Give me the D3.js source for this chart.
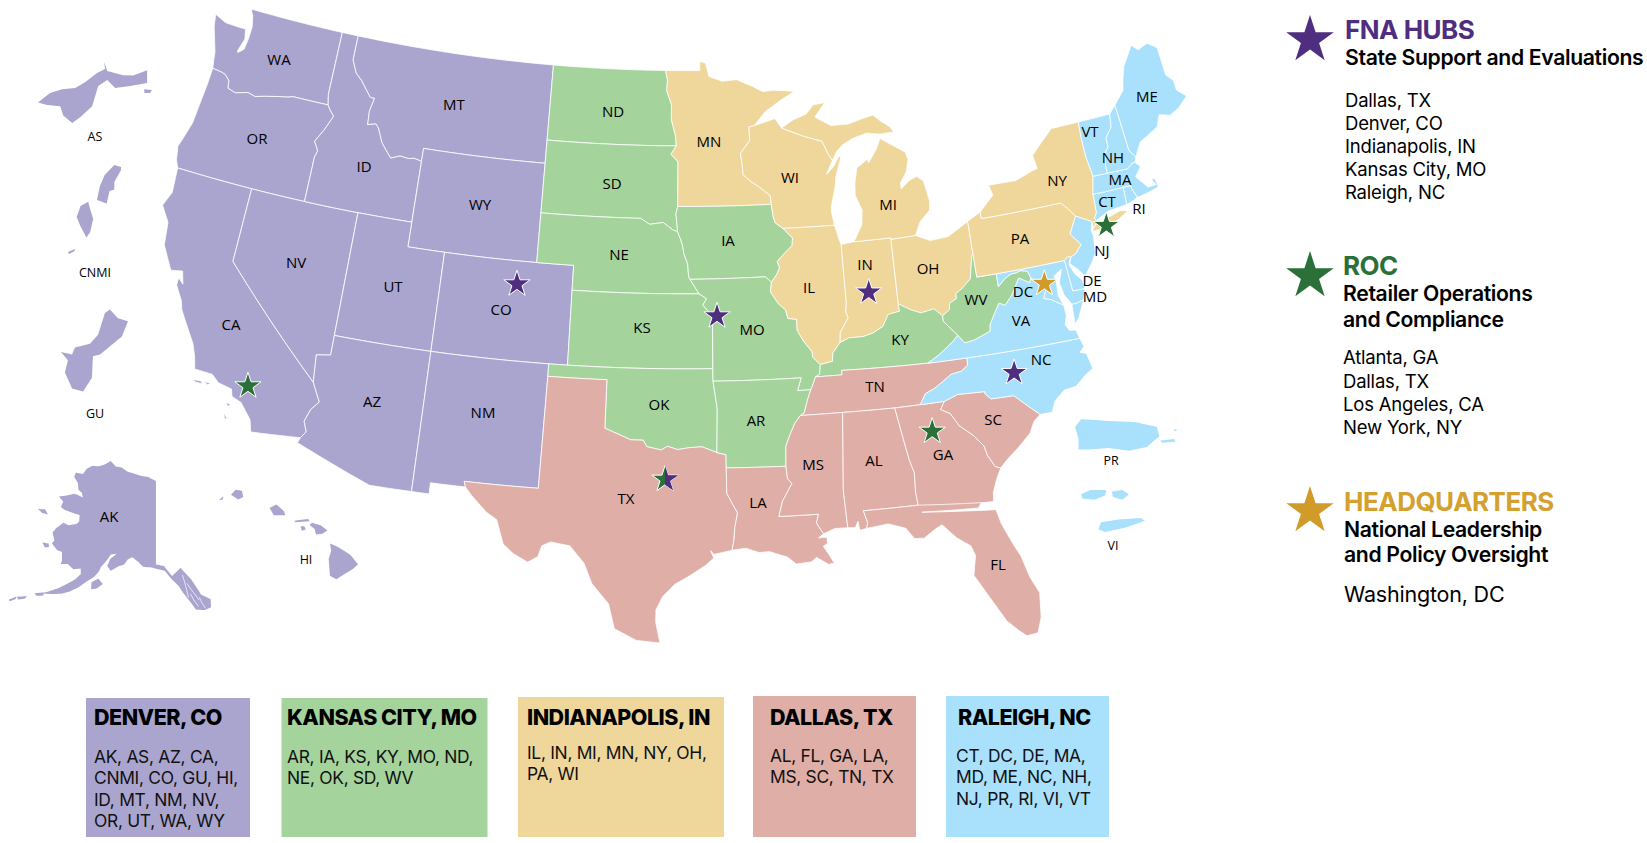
<!DOCTYPE html>
<html>
<head>
<meta charset="utf-8">
<script src="https://cdn.jsdelivr.net/npm/d3@7"></script>
<style>
  body { margin: 0; background: #fff; }
  svg { display: block; }
</style>
</head>
<body>
<svg id="mapa" width="1647" height="843"></svg>
<script>
// regions as printed in the boxes under the map
const regionNames = ["DENVER, CO", "KANSAS CITY, MO", "INDIANAPOLIS, IN", "DALLAS, TX", "RALEIGH, NC"];
const regionColors = ["#aaa5cf", "#a4d49c", "#efd69b", "#dfaea6", "#a9e0fc"];
const regionLines = [
  ["AK, AS, AZ, CA,", "CNMI, CO, GU, HI,", "ID, MT, NM, NV,", "OR, UT, WA, WY"],
  ["AR, IA, KS, KY, MO, ND,", "NE, OK, SD, WV"],
  ["IL, IN, MI, MN, NY, OH,", "PA, WI"],
  ["AL, FL, GA, LA,", "MS, SC, TN, TX"],
  ["CT, DC, DE, MA,", "MD, ME, NC, NH,", "NJ, PR, RI, VI, VT"]
];
// which fill each state takes on the map
const regionMembers = [
  ["AK","AS","AZ","CA","CNMI","CO","GU","HI","ID","MT","NM","NV","OR","UT","WA","WY"],
  ["AR","IA","KS","KY","MO","ND","NE","OK","SD","WV"],
  ["IL","IN","MI","MN","NY","OH","PA","WI"],
  ["AL","FL","GA","LA","MS","SC","TN","TX"],
  ["CT","DC","DE","MA","MD","ME","NC","NH","NJ","PR","RI","VI","VT","VA"]
];

// legend on the right
const legendTitles = ["FNA HUBS", "ROC", "HEADQUARTERS"];
const legendSubs = [["State Support and Evaluations"], ["Retailer Operations", "and Compliance"], ["National Leadership", "and Policy Oversight"]];
const legendCities = [
  ["Dallas, TX", "Denver, CO", "Indianapolis, IN", "Kansas City, MO", "Raleigh, NC"],
  ["Atlanta, GA", "Dallas, TX", "Los Angeles, CA", "New York, NY"],
  ["Washington, DC"]
];

// stars: lon, lat, group (0 hubs, 1 roc, 2 hq)
const hubs = [
  [-105.0, 40.07, 0], [-94.36, 39.1, 0], [-86.3, 39.69, 0], [-79.45, 35.7, 0],
  [-117.75, 34.3, 1], [-83.9, 33.87, 1], [-73.2, 40.7, 1],
  [-77.08, 38.98, 2]
];
const dallas = [-97.0, 32.57];

// shared borders, lon/lat
const columbia = [[-123.95,46.25],[-123.4,46.2],[-123.15,46.15],[-122.85,45.95],[-122.78,45.65],[-122.3,45.55],[-121.6,45.7],[-121.15,45.62],[-120.6,45.73],[-119.9,45.85],[-119.3,45.93],[-119,46],[-116.92,46]];
const snake = [[-116.92,46],[-116.78,45.85],[-116.47,45.6],[-116.67,45.25],[-116.85,44.95],[-117.22,44.45],[-117.03,44.23],[-116.93,44.1],[-117.03,43.83],[-117.03,42]];
const bitterroot = [[-116.05,49],[-116.05,48],[-115.7,47.5],[-115.3,47.25],[-114.95,46.95],[-114.6,46.65],[-114.35,46.65],[-114.5,46.1],[-114.45,45.55],[-114,45.65],[-113.8,45.5],[-113.45,44.95],[-113.05,44.6],[-112.8,44.4],[-112.3,44.55],[-111.8,44.5],[-111.5,44.55],[-111.05,44.48]];
const waCoast = [[-123.95,46.25],[-124.05,46.65],[-124.1,46.9],[-124.3,47.3],[-124.6,47.9],[-124.72,48.38],[-124,48.17],[-123.2,48.15],[-122.75,48.15],[-122.62,47.75],[-122.85,47.2],[-122.8,47.15],[-122.5,47.35],[-122.42,47.8],[-122.4,48.3],[-122.55,48.75],[-122.76,49]];
const orCoast = [[-124.21,42],[-124.4,42.3],[-124.55,42.84],[-124.4,43.2],[-124.15,43.9],[-124.07,44.7],[-123.98,45.6],[-123.95,46.25]];
const caCoast = [[-117.12,32.53],[-117.28,33],[-117.9,33.6],[-118.4,33.75],[-118.5,34.03],[-119.2,34.15],[-119.6,34.42],[-120.5,34.45],[-120.65,34.9],[-120.9,35.4],[-121.9,36.6],[-122.05,36.95],[-122.5,37.5],[-122.5,37.8],[-122.2,37.6],[-122.4,38.1],[-123,38],[-123.7,38.9],[-123.85,39.8],[-124.4,40.4],[-124.1,41],[-124.21,42]];
const azCa = [[-114.63,35],[-114.15,34.27],[-114.5,33.9],[-114.7,33.4],[-114.5,33],[-114.72,32.72]];

const ndMn = [[-97.23,49],[-97.1,48.6],[-97.15,48.2],[-96.85,47.6],[-96.85,47],[-96.6,46.35],[-96.55,45.94]];
const sdMn = [[-96.55,45.94],[-96.85,45.6],[-96.45,45.3],[-96.45,43.5]];
const sdIa = [[-96.45,43.5],[-96.55,43.2],[-96.45,42.49]];
const sdNe = [[-104.05,43],[-98.5,43],[-98,42.77],[-97.25,42.85],[-96.7,42.55],[-96.45,42.49]];
const neIa = [[-96.45,42.49],[-96.2,42],[-96.1,41.6],[-95.9,41.2],[-95.85,40.7],[-95.77,40.58]];
const neMo = [[-95.77,40.58],[-95.3,40]];
const moKs = [[-95.3,40],[-94.9,39.8],[-95.1,39.55],[-94.6,39.1],[-94.62,37]];
const moIa = [[-95.77,40.58],[-91.73,40.61],[-91.42,40.38]];

const mnWi = [[-92,46.7],[-92.3,46.66],[-92.29,46.1],[-92.85,45.6],[-92.75,45],[-92.75,44.75],[-92.3,44.45],[-91.9,44.25],[-91.25,43.85],[-91.22,43.5]];
const iaWi = [[-91.22,43.5],[-91.15,43],[-91.05,42.75],[-90.64,42.51]];
const iaIl = [[-90.64,42.51],[-90.15,42.1],[-90.2,41.8],[-90.65,41.5],[-91.05,41.2],[-90.95,40.95],[-91.1,40.7],[-91.42,40.38]];
const moIl = [[-91.42,40.38],[-91.5,40],[-91.1,39.5],[-90.75,39.25],[-90.65,38.9],[-90.2,38.85],[-90.2,38.4],[-89.9,37.95],[-89.5,37.5],[-89.5,37.3],[-89.13,36.98]];
const moKy = [[-89.13,36.98],[-89.2,36.6],[-89.42,36.5]];
const moTn = [[-89.42,36.5],[-89.55,36.25],[-89.7,36]];
const bootheel = [[-94.62,36.5],[-90.15,36.5],[-90.37,36],[-89.7,36]];
const arTn = [[-89.7,36],[-89.9,35.6],[-90.1,35.1],[-90.3,35]];
const arMs = [[-90.3,35],[-90.6,34.7],[-90.9,34.2],[-91.1,33.8],[-91.15,33]];
const laMs = [[-91.15,33],[-91.1,32.5],[-90.9,32.3],[-91.4,31.6],[-91.6,31],[-89.73,31],[-89.85,30.65],[-89.55,30.2]];
const arLa = [[-94.04,33.02],[-91.15,33]];
const txLa = [[-94.04,33.02],[-94.04,32],[-93.55,31.2],[-93.7,30.6],[-93.75,30.1],[-93.85,29.7]];
const txAr = [[-94.04,33.02],[-94.04,33.55],[-94.48,33.64]];
const okAr = [[-94.48,33.64],[-94.43,35.4],[-94.62,36.5]];
const redRiver = [[-100,34.56],[-99.2,34.3],[-98.7,34.13],[-98.1,34.13],[-97.9,33.87],[-97.2,33.75],[-96.9,33.9],[-96.4,33.77],[-95.8,33.85],[-95.2,33.88],[-94.48,33.64]];
const rioGrande = [[-106.53,31.78],[-106.2,31.47],[-105.4,30.85],[-104.9,30.6],[-104.5,29.65],[-104,29.3],[-103.3,29],[-102.85,29.25],[-102.7,29.7],[-102.3,29.88],[-101.4,29.77],[-100.7,29.1],[-100.3,28.3],[-99.5,27.5],[-99.2,26.5],[-98.2,26.05],[-97.15,25.96]];
const txCoast = [[-97.15,25.96],[-97.35,26.8],[-97.35,27.3],[-97.05,27.85],[-96.5,28.35],[-95.9,28.65],[-95.1,29.1],[-94.7,29.4],[-94.85,29.7],[-94.7,29.55],[-93.85,29.7]];
const laCoast = [[-93.85,29.7],[-93.2,29.77],[-92.6,29.58],[-92.1,29.6],[-91.8,29.5],[-91.3,29.35],[-90.9,29.05],[-90.2,29.1],[-89.95,29.27],[-89.4,28.95],[-89.15,29],[-89.4,29.4],[-89.6,29.7],[-89.4,29.8],[-89.4,30.05],[-89.8,30.05],[-89.55,30.2]];

const alGa = [[-85.6,34.98],[-85.18,32.87],[-85,32.3],[-85.05,31.55],[-85,31]];
const gaSc = [[-83.11,35],[-83.35,34.7],[-82.9,34.48],[-82.55,33.95],[-81.95,33.5],[-81.5,33],[-81.4,32.6],[-81.12,32.12],[-80.87,32.03]];
const gaCoast = [[-80.87,32.03],[-81.15,31.6],[-81.4,31.1],[-81.45,30.72]];
const gaFl = [[-81.45,30.72],[-82.05,30.75],[-82.2,30.57],[-84.86,30.7]];
const scCoast = [[-80.87,32.03],[-80.45,32.35],[-79.9,32.7],[-79.2,33.2],[-78.9,33.65],[-78.55,33.87]];
const scNc = [[-83.11,35],[-82.4,35.2],[-81.05,35.15],[-81.05,35.05],[-80.8,34.82],[-79.67,34.8],[-78.55,33.87]];
const ncTn = [[-81.68,36.59],[-81.7,36.3],[-82.05,36.1],[-82.6,36.03],[-83.1,35.77],[-83.5,35.57],[-84,35.4],[-84.32,34.99]];
const ncCoast = [[-75.87,36.55],[-75.75,36.2],[-76,36],[-75.7,35.9],[-75.55,35.27],[-76,35.05],[-76.55,34.7],[-77.15,34.65],[-77.7,34.3],[-77.95,33.87],[-78.55,33.87]];
const kyTn = [[-89.42,36.5],[-88.07,36.5],[-88.07,36.68],[-83.68,36.6]];
const vaTn = [[-83.68,36.6],[-81.68,36.59]];
const vaNc = [[-81.68,36.59],[-75.87,36.55]];
const kyVa = [[-83.68,36.6],[-83.1,36.85],[-82.3,37.3],[-81.97,37.54]];
const vaWv = [[-81.97,37.54],[-81.67,37.2],[-81.2,37.25],[-80.3,37.5],[-80.25,37.75],[-79.9,38.2],[-79.6,38.55],[-79.3,38.42],[-78.87,38.77],[-78.35,39.4],[-77.83,39.13],[-77.72,39.32]];
const kyWv = [[-81.97,37.54],[-82.6,38.17],[-82.6,38.4]];
const wvOh = [[-82.6,38.4],[-82.2,38.6],[-82.15,38.85],[-81.75,39],[-81.75,39.2],[-81.4,39.35],[-80.87,39.7],[-80.6,40.6],[-80.52,40.64]];
const kyOh = [[-82.6,38.4],[-83,38.72],[-83.7,38.63],[-84.2,38.8],[-84.82,39.1]];
const kyIn = [[-84.82,39.1],[-84.8,38.8],[-85.4,38.73],[-85.75,38.27],[-86.3,38.05],[-86.8,37.95],[-87.55,37.95],[-88.03,37.8]];
const kyIl = [[-88.03,37.8],[-88.45,37.4],[-88.5,37.07],[-89.13,36.98]];
const ilIn = [[-87.53,41.7],[-87.53,39.35],[-87.6,39],[-87.5,38.75],[-87.98,38.2],[-88.03,37.8]];
const ohLake = [[-83.45,41.73],[-82.7,41.45],[-81.7,41.5],[-80.52,41.98]];
const wvMd = [[-79.48,39.72],[-79.48,39.2],[-79.1,39.45],[-78.75,39.6],[-78.4,39.62],[-78.2,39.67],[-77.83,39.6],[-77.72,39.32]];
const potomac = [[-77.72,39.32],[-77.5,39.1],[-77.12,38.93],[-77.04,38.79],[-77.25,38.4],[-76.9,38.3],[-76.32,37.98]];
const vaCoast = [[-76.32,37.98],[-76.3,37.55],[-76.45,37.2],[-76.3,36.95],[-75.97,36.9],[-75.87,36.55]];
const paNj = [[-75.42,39.8],[-75.1,39.9],[-74.75,40.2],[-75.2,40.7],[-74.7,41.36]];
const njCoast = [[-73.9,41],[-74.05,40.65],[-74,40.45],[-74.1,39.75],[-74.4,39.4],[-74.9,38.93],[-75.2,39.25],[-75.55,39.55],[-75.42,39.8]];
const nyEast = [[-73.35,45.01],[-73.4,44.4],[-73.4,43.6],[-73.27,42.75],[-73.5,42.05],[-73.55,41.3],[-73.73,41.1],[-73.65,41]];
const vtNh = [[-71.5,45.01],[-71.6,44.5],[-72.05,44.1],[-72.05,43.75],[-72.35,43.5],[-72.45,43],[-72.46,42.73]];
const miWi = [[-90.4,46.55],[-89.1,46.15],[-88.1,45.9],[-87.8,45.35],[-87.6,45.1]];
const r = a => [...a].reverse();

// one or more rings per state
const stateRings = {
  WA: [[[-122.76,49],[-117.04,49],[-117.04,46.42], ...r(columbia), ...waCoast]],
  OR: [[...columbia, ...snake, [-120,42], ...orCoast]],
  CA: [[[-124.21,42],[-120,42],[-120,39], ...azCa, ...caCoast],
       [[-120.45,34.03],[-120.05,34.05],[-119.95,33.95],[-120.3,33.95]], [[-119.9,34.07],[-119.55,34.05],[-119.7,33.97]],
       [[-118.6,33.48],[-118.35,33.4],[-118.5,33.32]], [[-118.6,33.03],[-118.35,32.82],[-118.5,32.82]]],
  NV: [[[-120,42],[-114.04,42],[-114.04,36.2],[-114.75,36.1],[-114.63,35],[-120,39]]],
  ID: [[[-117.04,49], ...bitterroot, [-111.05,42],[-114.04,42], ...r(snake),[-117.04,46.42]]],
  MT: [[...bitterroot, [-111.05,45],[-104.05,45],[-104.05,49]]],
  WY: [[[-111.05,45],[-104.05,45],[-104.05,41],[-111.05,41]]],
  UT: [[[-114.04,42],[-111.05,42],[-111.05,41],[-109.05,41],[-109.05,37],[-114.04,37]]],
  CO: [[[-109.05,41],[-102.05,41],[-102.05,40],[-102.04,37],[-103,37],[-109.05,37]]],
  AZ: [[[-114.04,37],[-109.05,37],[-109.05,31.33],[-111.07,31.33],[-114.81,32.5], ...r(azCa),[-114.75,36.1],[-114.04,36.2]]],
  NM: [[[-109.05,37],[-103,37],[-103,36.5],[-103.06,32],[-106.62,32],[-106.53,31.78],[-108.21,31.78],[-108.21,31.33],[-109.05,31.33]]],
  ND: [[[-104.05,49], ...ndMn, [-104.05,45.94]]],
  SD: [[[-104.05,45.94], ...sdMn, ...sdIa, ...r(sdNe)]],
  NE: [[...sdNe, ...neIa, ...neMo, [-102.05,40],[-102.05,41],[-104.05,41]]],
  KS: [[[-102.05,40], ...moKs, [-102.04,37]]],
  OK: [[[-103,37],[-94.62,37],[-94.62,36.5], ...r(okAr), ...r(redRiver), [-100,36.5],[-103,36.5]]],
  TX: [[[-103,36.5],[-100,36.5], ...redRiver, ...r(txAr), ...txLa, ...r(txCoast), ...r(rioGrande), [-106.62,32],[-103.06,32]]],
  MN: [[[-97.23,49],[-95.15,49],[-95.15,49.38],[-94.8,49.3],[-94.6,48.75],[-93.8,48.55],[-92.95,48.6],[-92,48.3],[-91.4,48.07],[-90.75,48.1],[-90,48.05],[-89.5,48],[-90.3,47.7],[-91.3,47.25], ...mnWi, ...r(sdMn), ...r(ndMn)]],
  IA: [[[-96.45,43.5], ...iaWi, ...iaIl, ...r(moIa), ...r(neIa), ...r(sdIa)]],
  MO: [[...moIa, ...moIl, ...moKy, ...moTn, ...r(bootheel), ...r(moKs), ...r(neMo)]],
  AR: [[...bootheel, ...arTn, ...arMs, ...r(arLa), ...txAr, ...okAr]],
  LA: [[...arLa, ...laMs, ...r(laCoast), ...r(txLa)]],
  WI: [[[-92,46.7],[-91,46.9],[-90.75,46.95], ...miWi, [-88,44.55],[-87.55,44.85],[-87.2,45.25],[-87.1,45.2],[-87.5,44.4],[-87.55,44.1],[-87.9,43.2],[-87.9,43],[-87.8,42.49], ...r(iaWi), ...r(mnWi)]],
  IL: [[[-90.64,42.51],[-87.8,42.49],[-87.6,41.85], ...ilIn, ...kyIl, ...r(moIl), ...r(iaIl)]],
  IN: [[[-84.82,39.1],[-84.8,41.76],[-86.82,41.76], ...ilIn, ...r(kyIn)]],
  OH: [[[-84.8,41.7], ...ohLake, ...r(wvOh), ...kyOh]],
  MI: [[[-86.82,41.76],[-86.3,42.4],[-86.2,43],[-86.5,43.6],[-86.45,44.1],[-86.25,44.7],[-85.6,45],[-85.55,44.85],[-85,45.4],[-84.75,45.78],[-84.1,45.45],[-83.4,45.1],[-83.3,44.8],[-83.5,44.3],[-83.9,43.9],[-83.9,43.65],[-83.4,43.95],[-82.95,44.07],[-82.6,43.85],[-82.42,43],[-82.5,42.65],[-83.1,42.25],[-83.45,41.73],[-84.8,41.7],[-84.8,41.76]],
       [...miWi, [-87.3,45.45],[-86.9,45.7],[-86.3,45.9],[-85.5,46.05],[-84.7,45.95],[-83.9,45.97],[-84.1,46.2],[-84.55,46.45],[-85,46.75],[-85.5,46.68],[-86.5,46.5],[-87.5,46.5],[-88.4,46.9],[-87.75,47.45],[-88.45,47.4],[-88.9,47.05],[-89.7,46.85]]],
  KY: [[...kyTn, ...kyVa, ...kyWv, ...kyOh, ...kyIn, ...kyIl, ...moKy]],
  TN: [[[-90.3,35], ...r(arTn), ...r(moTn), ...kyTn, ...vaTn, ...ncTn, [-85.6,34.98],[-88.2,35]]],
  MS: [[[-90.3,35],[-88.2,35],[-88.47,31.9],[-88.4,30.37],[-89,30.38], ...r(laMs), ...r(arMs)]],
  AL: [[[-88.2,35], ...alGa, [-87.6,31],[-87.45,30.5],[-87.52,30.28],[-87.85,30.23],[-87.9,30.6],[-88.05,30.35],[-88.4,30.37],[-88.47,31.9]]],
  GA: [[[-85.6,34.98],[-84.32,34.99], ...gaSc, ...gaCoast, ...gaFl, [-85,31], ...r(alGa)]],
  FL: [[[-87.52,30.28],[-86.5,30.38],[-85.7,30.13],[-85.35,29.68],[-84.9,29.65],[-84.35,29.95],[-84,30.1],[-83.4,29.5],[-82.8,29.1],[-82.65,28.7],[-82.85,27.9],[-82.55,27.4],[-82.15,26.7],[-81.8,26.1],[-81.7,25.9],[-81.2,25.4],[-80.9,25.15],[-80.4,25.2],[-80.15,25.8],[-80.03,26.8],[-80.35,27.5],[-80.6,28.4],[-80.85,28.9],[-81.25,29.8],[-81.4,30.4], ...r(gaFl), [-85,31],[-87.6,31],[-87.45,30.5]]],
  SC: [[...scNc, ...r(scCoast), ...r(gaSc)]],
  NC: [[...r(ncTn), ...vaNc, ...ncCoast, ...r(scNc)]],
  VA: [[...r(vaNc), ...r(vaTn), ...kyVa, ...vaWv, ...potomac, ...vaCoast],
       [[-75.25,38.03],[-75.65,37.95],[-75.9,37.95],[-75.95,37.15],[-75.7,37.35]]],
  WV: [[...vaWv, ...r(wvMd), [-80.52,39.72], ...r(wvOh), ...r(kyWv)]],
  MD: [[[-79.48,39.72],[-75.79,39.72],[-75.7,38.46],[-75.05,38.45],[-75.25,38.03],[-75.65,37.95],[-75.9,37.95],[-76.2,38.4],[-76.3,38.9],[-76.05,39.4],[-76.5,39.2],[-76.45,38.9],[-76.5,38.4], ...r(potomac), ...r(wvMd)]],
  DC: [[[-77.12,38.93],[-77.04,39],[-76.91,38.89],[-77.04,38.79]]],
  DE: [[[-75.79,39.72],[-75.7,38.46],[-75.05,38.45],[-75.1,38.8],[-75.4,39.1],[-75.6,39.5],[-75.55,39.65],[-75.42,39.8],[-75.6,39.84]]],
  PA: [[[-80.52,41.98],[-79.76,42.27],[-79.76,42],[-75.35,42],[-75.05,41.75],[-74.7,41.36], ...r(paNj), [-75.6,39.84],[-75.79,39.72],[-80.52,39.72],[-80.52,40.64]]],
  NJ: [[[-74.7,41.36], ...njCoast, ...paNj]],
  NY: [[[-79.76,42.27],[-78.9,42.85],[-79.05,43.27],[-77.5,43.25],[-76.5,43.5],[-76.2,43.55],[-76.3,44.1],[-75.8,44.45],[-74.95,45], ...nyEast, [-73.78,40.8],[-73.92,40.75],[-73.9,41],[-74.7,41.36],[-75.05,41.75],[-75.35,42],[-79.76,42]],
       [[-74.03,40.6],[-73.75,40.85],[-73.2,40.95],[-72.3,41.15],[-71.87,41.07],[-72.5,40.82],[-73.3,40.63]]],
  CT: [[[-73.5,42.05],[-72.8,42.03],[-71.8,42.02],[-71.85,41.32],[-72.9,41.25],[-73.65,41],[-73.73,41.1],[-73.55,41.3]]],
  RI: [[[-71.8,42.02],[-71.38,42.02],[-71.38,41.9],[-71.2,41.5],[-71.45,41.4],[-71.85,41.32]]],
  MA: [[[-73.27,42.75],[-72.46,42.73],[-71.3,42.7],[-71,42.87],[-70.82,42.87],[-70.6,42.65],[-71,42.3],[-70.65,41.95],[-70.5,41.78],[-70.05,41.78],[-70.2,42.05],[-70,42.03],[-69.95,41.67],[-70.65,41.55],[-71.1,41.5],[-71.2,41.5],[-71.38,41.9],[-71.38,42.02],[-71.8,42.02],[-72.8,42.03],[-73.5,42.05]]],
  VT: [[[-73.35,45.01], ...vtNh, [-73.27,42.75],[-73.4,43.6],[-73.4,44.4]]],
  NH: [[[-71.5,45.01],[-71.08,45.3],[-71.03,44.5],[-70.98,43.4],[-70.7,43.07],[-70.82,42.87],[-71,42.87],[-71.3,42.7], ...r(vtNh)]],
  ME: [[[-71.08,45.3],[-70.4,45.8],[-70.25,46.2],[-70,46.7],[-69.23,47.46],[-68.9,47.2],[-68.3,47.36],[-67.8,47.07],[-67.78,45.9],[-67.45,45.6],[-67.45,45.2],[-67,44.85],[-67.6,44.5],[-68.2,44.3],[-68.8,44.45],[-69.1,44],[-69.8,43.75],[-70.25,43.6],[-70.55,43.25],[-70.7,43.07],[-70.98,43.4],[-71.03,44.5]]]
};

// outlying areas, each with its own projection
const alaska = [
  [[-141,69.65],[-143.5,70.1],[-146,70.2],[-148.5,70.4],[-150.5,70.5],[-152.5,70.85],[-154.5,70.85],[-156.6,71.35],[-158,70.85],[-160,70.4],[-162,70.25],[-163.5,69.7],[-164,69],[-166.2,68.87],[-166.2,68.35],[-164.5,67.85],[-163.7,67.15],[-162.5,66.95],[-161.8,66.5],[-163.7,66.6],[-164.5,66.55],[-166.2,66.1],[-168.1,65.65],[-166.5,65.3],[-166.5,64.65],[-165.4,64.5],[-163.5,64.5],[-161.2,64.5],[-160.8,63.8],[-161.3,63.45],[-163,63.05],[-164.5,63.1],[-165.6,62.3],[-166.1,61.65],[-165,60.9],[-165.3,60.5],[-163.7,60],[-162.5,59.98],[-161.9,59.1],[-161.9,58.65],[-160.5,58.9],[-159,58.5],[-157.5,58.8],[-157.2,58.2],[-158,57.5],[-159.9,56.5],[-161,55.95],[-162.8,55.2],[-164.8,54.6],[-163,54.95],[-161.5,55.2],[-160,55.5],[-158.5,56],[-157,56.7],[-155.7,57.5],[-154.3,58.2],[-153.5,58.9],[-153.2,59.5],[-152.2,60.3],[-151.5,61],[-150.2,61.2],[-151.5,60.5],[-151.9,59.7],[-151,59.2],[-149.5,59.8],[-148.2,60.1],[-147.5,60.7],[-146.5,61],[-145,60.5],[-143.9,60],[-142,59.95],[-140,59.7],[-139,59.55],[-137.6,58.6],[-136.2,57.8],[-135.4,57],[-134.2,56],[-133.2,55],[-131.5,54.8],[-130.2,55],[-130,55.9],[-131.8,56.6],[-132.1,57],[-133.4,58.4],[-135.5,59.8],[-137.5,58.95],[-139.2,60.1],[-141,60.3]],
  [[-154.6,57.6],[-153.3,58.1],[-152.2,57.6],[-153.3,57],[-154.4,56.8]],
  [[-171.7,63.4],[-170,63.7],[-168.8,63.3],[-170.3,63.2]],
  [[-167.4,60.2],[-166,60.35],[-165.6,60],[-166.5,59.8]],
  [[-165,54.6],[-163.5,55],[-163.2,54.7],[-164.5,54.4]],
  [[-167.8,53.5],[-166.2,54],[-166.3,53.65],[-167.5,53.25]],
  [[-169,52.85],[-167.9,53.5],[-167.9,53.2],[-168.8,52.7]]
];
// white channels between the panhandle islands
const alaskaChannels = [
  [[-135.2,59],[-134.9,58.2],[-134.6,57.3],[-134.4,56.4]],
  [[-134.4,58],[-133.6,57.2],[-132.9,56.6],[-132.3,56]],
  [[-133.9,56.8],[-133.4,56.1],[-132.6,55.3]],
  [[-132.2,56.3],[-131.8,55.6],[-131.3,55]]
];
const hawaii = [
  [[-155.9,20.27],[-155.6,20.15],[-155.1,19.85],[-154.8,19.5],[-155,19.33],[-155.65,18.95],[-155.9,19.08],[-155.95,19.7],[-155.85,20]],
  [[-156.7,20.95],[-156.6,21.03],[-156.25,20.93],[-156,20.75],[-156.2,20.63],[-156.45,20.6],[-156.5,20.8]],
  [[-157.3,21.1],[-156.75,21.17],[-156.7,21.08],[-157.25,21.05]],
  [[-157.05,20.9],[-156.9,20.9],[-156.85,20.78],[-157,20.74]],
  [[-158.27,21.57],[-158,21.7],[-157.7,21.45],[-157.65,21.3],[-158.1,21.3]],
  [[-159.78,22.05],[-159.6,22.23],[-159.35,22.2],[-159.3,21.97],[-159.5,21.88]],
  [[-160.25,21.85],[-160.08,22],[-160.1,21.88]]
];
const samoa = [
  [[-170.843,-14.354],[-170.811,-14.33],[-170.779,-14.32],[-170.744,-14.317],[-170.718,-14.302],[-170.686,-14.278],[-170.665,-14.268],[-170.667,-14.25],[-170.659,-14.273],[-170.617,-14.284],[-170.59,-14.285],[-170.553,-14.271],[-170.553,-14.304],[-170.598,-14.312],[-170.638,-14.317],[-170.659,-14.296],[-170.683,-14.312],[-170.699,-14.364],[-170.731,-14.392],[-170.752,-14.407],[-170.776,-14.388],[-170.784,-14.364],[-170.819,-14.361]],
  [[-170.561,-14.32],[-170.54,-14.322],[-170.545,-14.33],[-170.56,-14.33]]
];
const marianas = [
  [[145.825,15.281],[145.794,15.29],[145.75,15.246],[145.728,15.197],[145.714,15.135],[145.759,15.119],[145.772,15.175],[145.794,15.181],[145.794,15.215],[145.825,15.268]],
  [[145.674,15.127],[145.639,15.108],[145.621,15.059],[145.639,15.017],[145.666,14.968],[145.683,14.993],[145.697,15.05],[145.679,15.108]],
  [[145.581,14.904],[145.612,14.917],[145.612,14.908],[145.586,14.895]]
];
const guam = [
  [[144.62,13.44],[144.676,13.428],[144.691,13.462],[144.767,13.481],[144.808,13.525],[144.843,13.633],[144.868,13.65],[144.909,13.607],[144.96,13.592],[144.929,13.517],[144.818,13.428],[144.782,13.419],[144.777,13.313],[144.732,13.245],[144.676,13.26],[144.64,13.339],[144.655,13.399]]
];
const puertoRico = [
  [[-67.27,18.37],[-67.15,18.52],[-66.6,18.49],[-66.1,18.47],[-65.65,18.38],[-65.6,18.2],[-65.85,18],[-66.2,17.93],[-66.6,17.98],[-67,17.95],[-67.2,17.95],[-67.2,18.15]],
  [[-65.58,18.12],[-65.3,18.15],[-65.28,18.1],[-65.55,18.08]],
  [[-65.33,18.33],[-65.25,18.33],[-65.27,18.29]]
];
const virginIslands = [
  [[-65.03,18.34],[-64.96,18.37],[-64.84,18.37],[-64.85,18.33],[-64.93,18.3],[-65.02,18.31]],
  [[-64.8,18.36],[-64.72,18.37],[-64.67,18.34],[-64.72,18.3],[-64.79,18.32]],
  [[-64.9,18.09],[-64.88,18.14],[-64.75,18.16],[-64.58,18.17],[-64.55,18.15],[-64.7,18.1],[-64.85,18.07]]
];

// layout, page pixels
const labelAt = {
  WA:[279,60],OR:[257,139],MT:[454,105],ID:[364,167],WY:[480,205],NV:[296,263],UT:[393,287],CO:[501,310],CA:[231,325],AZ:[372,402],NM:[483,413],
  ND:[613,112],SD:[612,184],NE:[619,255],KS:[642,328],OK:[659,405],TX:[626,499],AR:[756,421],LA:[758,503],MN:[709,142],WI:[790,178],IA:[728,241],
  MO:[752,330],IL:[809,288],IN:[865,265],MI:[888,205],OH:[928,269],KY:[900,340],TN:[875,387],MS:[813,465],AL:[874,461],GA:[943,455],SC:[993,420],
  FL:[998,565],NC:[1041,360],VA:[1021,321],WV:[976,300],PA:[1020,239],NY:[1057,181],NJ:[1102,251],DE:[1092,281],MD:[1095,297],DC:[1023,292],
  RI:[1139,209],CT:[1107,202],MA:[1120,180],NH:[1113,158],VT:[1090,132],ME:[1147,97],
  AS:[95,137],CNMI:[95,273],GU:[95,414],AK:[109,517],HI:[306,560],PR:[1111,461],VI:[1113,546]
};
const insetBoxes = {
  AK: [[9,460],[211,611]], HI: [[219,489],[358,580]], AS: [[38,62],[152,123]], CNMI: [[66,165],[123,254]],
  GU: [[61,308],[128,393]], PR: [[1075,419],[1177,451]], VI: [[1079,490],[1147,532]]
};
const boxX = [[86,250],[281.5,487.5],[518,724],[753,916],[946,1109]];
const boxTop = [698,698,697,696,696];
const boxTitleX = [94,287,527,770,958];
const boxBodyX = [94,287,527,770,956];
const boxBodyY = [763,763,759,762,762];
const starColors = ["#4f2d7f", "#2b7039", "#d19b2a"];

const svg = d3.select("#mapa");

// straight in lon/lat, so the 49th parallel stays a parallel
function denso(anel, aberto) {
  const saida = [];
  const fim = aberto ? anel.length - 1 : anel.length;
  for (let i = 0; i < fim; i++) {
    const p = anel[i], q = anel[(i + 1) % anel.length];
    const n = Math.ceil(Math.max(Math.abs(q[0] - p[0]), Math.abs(q[1] - p[1])) / 0.5) || 1;
    for (let k = 0; k < n; k++) {
      saida.push([p[0] + (q[0] - p[0]) * k / n, p[1] + (q[1] - p[1]) * k / n]);
    }
  }
  saida.push(aberto ? anel[anel.length - 1] : saida[0]);
  return saida;
}

function poligono(code, aneis) {
  return {
    type: "Feature",
    properties: { code: code },
    geometry: {
      type: "MultiPolygon",
      coordinates: aneis.map(function (a) {
        const anel = denso(a);
        // d3 wants the small side inside
        return [d3.geoArea({ type: "Polygon", coordinates: [anel] }) > 2 * Math.PI ? anel.reverse() : anel];
      })
    }
  };
}

const regionOf = {};
regionMembers.forEach(function (lista, i) {
  lista.forEach(function (c) { regionOf[c] = i; });
});

const conus = Object.keys(stateRings).map(function (c) { return poligono(c, stateRings[c]); });
const projection = d3.geoConicEqualArea().rotate([96, 0]).parallels([29.5, 45.5])
  .fitExtent([[160, 9], [1189, 643]], { type: "FeatureCollection", features: conus });
const path = d3.geoPath(projection);

const gMap = svg.append("g");
gMap.selectAll("path.state").data(conus).enter().append("path")
  .attr("class", "state")
  .attr("d", path)
  .attr("fill", function (d) { return regionColors[regionOf[d.properties.code]]; })
  .attr("stroke", "#fff")
  .attr("stroke-width", 0.8)
  .attr("stroke-linejoin", "round");

function inset(code, aneis, proj) {
  const f = poligono(code, aneis);
  proj.fitExtent(insetBoxes[code], f);
  gMap.append("path")
    .attr("d", d3.geoPath(proj)(f))
    .attr("fill", regionColors[regionOf[code]]);
  return proj;
}
const akProj = inset("AK", alaska, d3.geoConicEqualArea().rotate([141, 0]).parallels([55, 65]));
gMap.append("path")
  .attr("d", d3.geoPath(akProj)({ type: "MultiLineString", coordinates: alaskaChannels.map(function (c) { return denso(c, true); }) }))
  .attr("fill", "none")
  .attr("stroke", "#fff")
  .attr("stroke-width", 0.7);
inset("HI", hawaii, d3.geoMercator());
inset("AS", samoa, d3.geoMercator());
inset("CNMI", marianas, d3.geoMercator());
inset("GU", guam, d3.geoMercator());
inset("PR", puertoRico, d3.geoMercator());
inset("VI", virginIslands, d3.geoMercator());

// state labels
gMap.selectAll("text.uf").data(Object.keys(labelAt)).enter().append("text")
  .attr("class", "uf")
  .attr("x", function (d) { return labelAt[d][0]; })
  .attr("y", function (d) { return labelAt[d][1]; })
  .attr("dy", "0.35em")
  .attr("text-anchor", "middle")
  .attr("font-family", "'Open Sans', sans-serif")
  .attr("font-weight", 500)
  .attr("font-size", function (d) { return ["AS", "CNMI", "GU", "HI", "PR", "VI"].indexOf(d) >= 0 ? 12.5 : 15; })
  .attr("fill", "#000")
  .text(function (d) { return d; });

// stars
const estrela = d3.symbol().type(d3.symbolStar);
const mapStar = estrela.size(215)();
gMap.selectAll("path.hub").data(hubs).enter().append("path")
  .attr("class", "hub")
  .attr("d", mapStar)
  .attr("transform", function (d) { return "translate(" + projection([d[0], d[1]]) + ")"; })
  .attr("fill", function (d) { return starColors[d[2]]; })
  .attr("stroke", "#fff")
  .attr("stroke-width", 1);

// dallas is both a hub and a roc, half a star each
const dallasXY = projection(dallas);
svg.append("clipPath").attr("id", "metade").append("rect")
  .attr("x", 0).attr("y", -20).attr("width", 20).attr("height", 40);
const gDallas = gMap.append("g").attr("transform", "translate(" + dallasXY + ")");
gDallas.append("path").attr("d", mapStar).attr("fill", starColors[1]).attr("stroke", "#fff");
gDallas.append("path").attr("d", mapStar).attr("fill", starColors[0]).attr("clip-path", "url(#metade)");

// boxes under the map
const boxes = svg.append("g").selectAll("g").data(regionNames).enter().append("g");
boxes.append("rect")
  .attr("x", function (d, i) { return boxX[i][0]; })
  .attr("y", function (d, i) { return boxTop[i]; })
  .attr("width", function (d, i) { return boxX[i][1] - boxX[i][0]; })
  .attr("height", function (d, i) { return 837 - boxTop[i]; })
  .attr("fill", function (d, i) { return regionColors[i]; });
boxes.append("text")
  .attr("x", function (d, i) { return boxTitleX[i]; })
  .attr("y", 725)
  .attr("font-family", "Inter, sans-serif")
  .attr("font-weight", 800)
  .attr("font-size", 21.5)
  .attr("letter-spacing", -0.5)
  .attr("fill", "#000")
  .text(function (d) { return d; });
boxes.each(function (d, i) {
  d3.select(this).selectAll("text.body").data(regionLines[i]).enter().append("text")
    .attr("class", "body")
    .attr("x", boxBodyX[i])
    .attr("y", function (l, k) { return boxBodyY[i] + k * 21.3; })
    .attr("font-family", "Inter, sans-serif")
    .attr("font-size", 17.4)
    .attr("letter-spacing", -0.3)
    .attr("fill", "#111")
    .text(function (l) { return l; });
});

// legend
const legendX = [1345, 1343, 1344];
const legendTitleY = [39, 275, 511];
const legendSubY = [[65], [301, 327], [537, 562]];
const legendCityY = [[107, 130, 153, 176, 199], [364, 388, 411, 434], [602]];
const legendStarY = [40, 276, 511];
const legendTextColors = ["#4f2d7f", "#2b7039", "#d4a02f"];
const bigStar = estrela.size(700)();
legendTitles.forEach(function (t, i) {
  const g = svg.append("g");
  g.append("path").attr("d", bigStar).attr("transform", "translate(1310," + legendStarY[i] + ")").attr("fill", starColors[i]);
  g.append("text").attr("x", legendX[i]).attr("y", legendTitleY[i])
    .attr("font-family", "Inter, sans-serif").attr("font-weight", 700).attr("font-size", 26).attr("letter-spacing", -0.5)
    .attr("fill", legendTextColors[i]).text(t);
  legendSubs[i].forEach(function (s, k) {
    g.append("text").attr("x", legendX[i]).attr("y", legendSubY[i][k])
      .attr("font-family", "Inter, sans-serif").attr("font-weight", 600).attr("font-size", 21.2).attr("letter-spacing", -0.35)
      .attr("fill", "#000").text(s);
  });
  legendCities[i].forEach(function (s, k) {
    g.append("text").attr("x", legendX[i]).attr("y", legendCityY[i][k])
      .attr("font-family", "Inter, sans-serif").attr("font-size", i === 2 ? 21.5 : 18.5).attr("letter-spacing", -0.2)
      .attr("fill", "#000").text(s);
  });
});
</script>
</body>
</html>
